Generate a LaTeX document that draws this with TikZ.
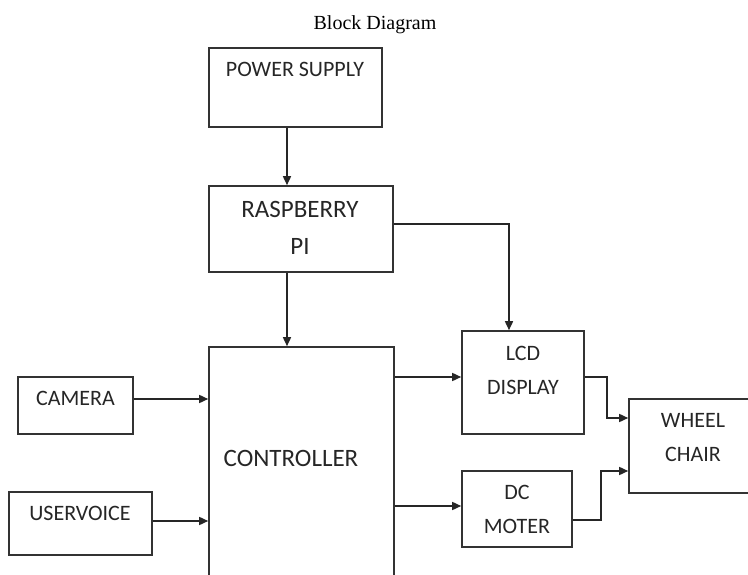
\documentclass[tikz,border=0pt]{standalone}
\usepackage{fontspec}
\setmainfont{Carlito}
\newfontfamily\titlefont{Liberation Serif}
\usetikzlibrary{positioning,arrows.meta}

\tikzset{
  blk/.style={draw=black!80, line width=1.6pt, inner sep=0pt},
  txt/.style={inner sep=0pt, align=center, text=black!85, font=\fontsize{22}{34}\selectfont},
  bigtxt/.style={txt, font=\fontsize{25}{37}\selectfont},
  arr/.style={draw=black!85, line width=1.6pt, -{Triangle[length=9pt,width=8pt]}}
}

\begin{document}
\begin{tikzpicture}[x=1pt, y=-1pt]
\useasboundingbox (0,0) rectangle (748,575);
\clip (0,0) rectangle (748,575);

\def\xv{287}

% title
\node[font=\titlefont\fontsize{20}{24}\selectfont] (title) at (375,25) {Block Diagram};

% boxes
\node[blk, minimum width=173pt, minimum height=79pt] (ps) at (295.5,87.5) {};
\node[blk, minimum width=184pt, minimum height=86pt] (rp) at (301,229) {};
\node[blk, minimum width=185pt, minimum height=260pt] (ctl) at (301.5,477) {};
\node[blk, minimum width=115pt, minimum height=57pt] (cam) at (75.5,405.5) {};
\node[blk, minimum width=143pt, minimum height=63pt] (uv) at (80.5,523.5) {};
\node[blk, minimum width=122pt, minimum height=103pt] (lcd) at (523,382.5) {};
\node[blk, minimum width=110pt, minimum height=76pt] (dc) at (517,509) {};
\node[blk, minimum width=140pt, minimum height=94pt] (wc) at (699,446) {};

% texts
\node[txt] (pst) at (295,69) {POWER SUPPLY};
\node[bigtxt] (rpt) at (300,227.5) {RASPBERRY\\PI};
\node[bigtxt] (ctlt) at (291,458) {CONTROLLER};
\node[txt] (camt) at (75.5,398) {CAMERA};
\node[txt] (uvt) at (80,513) {USERVOICE};
\node[txt] (lcdt) at (523,370) {LCD\\DISPLAY};
\node[txt] (dct) at (517,509) {DC\\MOTER};
\node[txt] (wct) at (693,437.5) {WHEEL\\CHAIR};

% connectors
\draw[arr] (ps.south -| \xv,0) -- (rp.north -| \xv,0);
\draw[arr] (rp.south -| \xv,0) -- (ctl.north -| \xv,0);
\draw[arr] (rp.east |- 0,224) -| (lcd.north -| 509,0);
\draw[arr] (cam.east |- 0,399) -- (ctl.west |- 0,399);
\draw[arr] (uv.east |- 0,521) -- (ctl.west |- 0,521);
\draw[arr] (ctl.east |- 0,377) -- (lcd.west |- 0,377);
\draw[arr] (ctl.east |- 0,506) -- (dc.west |- 0,506);
\draw[arr] (lcd.east |- 0,377) -| (607,418) -- (wc.west |- 0,418);
\draw[arr] (dc.east |- 0,520) -| (601,471) -- (wc.west |- 0,471);

\end{tikzpicture}
\end{document}
